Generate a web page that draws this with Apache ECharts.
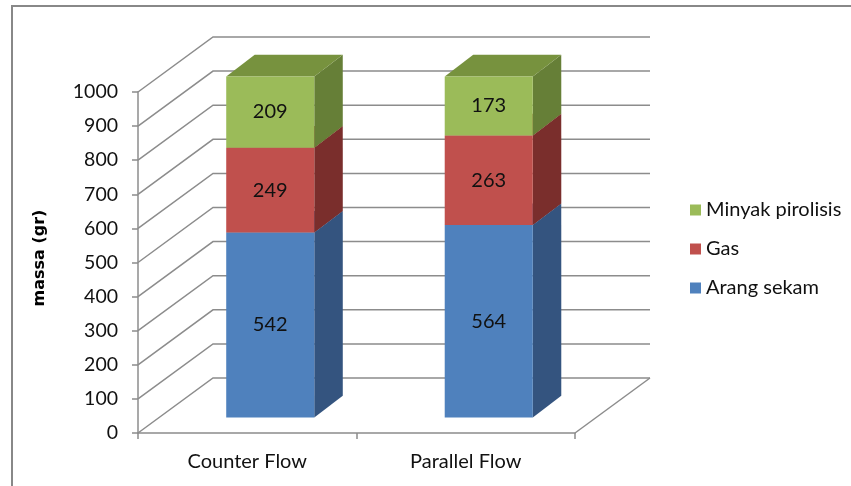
<!DOCTYPE html>
<html>
<head>
<meta charset="utf-8">
<script src="https://cdn.jsdelivr.net/npm/echarts@6/dist/echarts.min.js"></script>
<style>
  html, body { margin: 0; padding: 0; background: #ffffff; }
  #main { width: 851px; height: 486px; }
</style>
</head>
<body>
<div id="main"></div>
<script>
// Mass balance of rice-husk pyrolysis products per flow configuration
const categories = ['Counter Flow', 'Parallel Flow'];
const arangSekam = [542, 564];
const gasValues = [249, 263];
const minyakPirolisis = [209, 173];
const yTicks = [0, 100, 200, 300, 400, 500, 600, 700, 800, 900, 1000];
const yTitle = 'massa (gr)';

// Oblique projection used for the pseudo-3D walls and blocks (pixels)
const DEPTH = [75, -55];          // full depth of the floor / side wall
const BAR_SHIFT = [23, -15.6];    // where the block front face sits in depth
const BAR_DEPTH = [28.5, -21.7];  // depth of each block
const BAR_RATIO = 0.403;          // block width relative to category band

const FONT = 'Lato, "Open Sans", sans-serif';
const GRID_COLOR = '#8c8c8c';

// Stack the three product series
function stacked(values, bases) {
  return values.map((v, i) => [i, bases ? bases[i] : 0, v]);
}
const baseGas = arangSekam.slice();
const baseMinyak = arangSekam.map((v, i) => v + gasValues[i]);

function wallItem(params, api) {
  const cs = params.coordSys;
  const v = api.value(1);
  const y = api.coord([0, v])[1];
  const x0 = cs.x, x1 = cs.x + cs.width;
  const style = { stroke: GRID_COLOR, lineWidth: 1.5, fill: null };
  const children = [{
    type: 'polyline',
    shape: { points: [[x0, y], [x0 + DEPTH[0], y + DEPTH[1]], [x1 + DEPTH[0], y + DEPTH[1]]] },
    style: style
  }];
  if (v === 0) {
    children.push({
      type: 'line',
      shape: { x1: x1, y1: y, x2: x1 + DEPTH[0], y2: y + DEPTH[1] },
      style: style
    });
  }
  return { type: 'group', children: children };
}

function blockRenderer(front, side, top) {
  return function (params, api) {
    const cat = api.value(0);
    const lo = api.value(1);
    const val = api.value(2);
    const pLo = api.coord([cat, lo]);
    const pHi = api.coord([cat, lo + val]);
    const w = api.size([1, 0])[0] * BAR_RATIO;
    const xl = pLo[0] - w / 2 + BAR_SHIFT[0];
    const xr = xl + w;
    const yb = pLo[1] + BAR_SHIFT[1];
    const yt = pHi[1] + BAR_SHIFT[1];
    const dx = BAR_DEPTH[0], dy = BAR_DEPTH[1];
    return {
      type: 'group',
      children: [
        { type: 'polygon', shape: { points: [[xr, yb], [xr + dx, yb + dy], [xr + dx, yt + dy], [xr, yt]] },
          style: { fill: side } },
        { type: 'polygon', shape: { points: [[xl, yt], [xr, yt], [xr + dx, yt + dy], [xl + dx, yt + dy]] },
          style: { fill: top } },
        { type: 'rect', shape: { x: xl, y: yt, width: w, height: yb - yt },
          style: { fill: front } },
        { type: 'text', style: {
            text: String(val), x: (xl + xr) / 2, y: (yb + yt) / 2,
            align: 'center', verticalAlign: 'middle',
            font: '20px ' + FONT, fill: '#111111' } }
      ]
    };
  };
}

function blockSeries(name, data, front, side, top) {
  return {
    name: name,
    type: 'custom',
    data: data,
    encode: { x: 0, y: [1, 2] },
    itemStyle: { color: front },
    renderItem: blockRenderer(front, side, top),
    clip: false
  };
}

const option = {
  animation: false,
  backgroundColor: '#ffffff',
  textStyle: { fontFamily: FONT },
  grid: { left: 138, right: 276, top: 92, bottom: 53 },
  legend: {
    orient: 'vertical',
    left: 685,
    top: 194,
    icon: 'rect',
    itemWidth: 11,
    itemHeight: 11,
    itemGap: 17,
    data: ['Minyak pirolisis', 'Gas', 'Arang sekam'],
    textStyle: { fontFamily: FONT, fontSize: 20, color: '#111111', lineHeight: 22 }
  },
  xAxis: {
    type: 'category',
    data: categories,
    axisLine: { lineStyle: { color: GRID_COLOR, width: 1.5 } },
    axisTick: { show: true, length: 6, lineStyle: { color: GRID_COLOR, width: 1.5 } },
    axisLabel: { fontFamily: FONT, fontSize: 20, color: '#111111', margin: 19 },
    splitLine: { show: false }
  },
  yAxis: {
    type: 'value',
    min: 0,
    max: 1000,
    interval: 100,
    axisLine: { show: true, lineStyle: { color: GRID_COLOR, width: 1.5 } },
    axisTick: { show: true, length: 6, lineStyle: { color: GRID_COLOR, width: 1.5 } },
    axisLabel: { fontFamily: FONT, fontSize: 19.5, color: '#111111', margin: 20,
                 formatter: v => String(v) },
    splitLine: { show: false }
  },
  graphic: [
    {
      type: 'rect',
      shape: { x: 12, y: 6, width: 900, height: 600 },
      style: { fill: null, stroke: '#888888', lineWidth: 2 },
      silent: true
    },
    {
      // vertical axis title
      type: 'text',
      x: 40,
      y: 258,
      rotation: Math.PI / 2,
      style: {
        text: yTitle,
        align: 'center',
        verticalAlign: 'middle',
        font: 'bold 16px "DejaVu Sans", sans-serif',
        fill: '#000000'
      },
      silent: true
    }
  ],
  series: [
    {
      name: 'walls',
      type: 'custom',
      data: yTicks.map(v => [0, v]),
      encode: { x: 0, y: 1 },
      renderItem: wallItem,
      silent: true,
      clip: false
    },
    blockSeries('Arang sekam', stacked(arangSekam), '#4f81bd', '#34547f', '#3f6798'),
    blockSeries('Gas', stacked(gasValues, baseGas), '#c0504d', '#7a2e2c', '#9a3d3b'),
    blockSeries('Minyak pirolisis', stacked(minyakPirolisis, baseMinyak), '#9bbb59', '#667f37', '#77923e')
  ]
};

const chart = echarts.init(document.getElementById('main'));
chart.setOption(option);
</script>
</body>
</html>
